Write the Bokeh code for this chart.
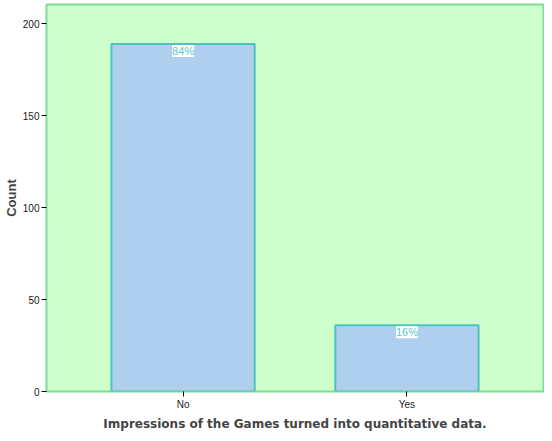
from bokeh.plotting import figure
from bokeh.models import ColumnDataSource, LabelSet, FactorRange, Range1d, FixedTicker
from bokeh.core.properties import value
from bokeh.embed import file_html
from bokeh.resources import INLINE

categories = ["No", "Yes"]
counts = [189, 36]
percent_labels = ["84%", "16%"]
y_ticks = [0, 50, 100, 150, 200]

source = ColumnDataSource(dict(cat=categories, count=counts, pct=percent_labels))

p = figure(width=544, height=433, output_backend="svg", toolbar_location=None,
           x_range=FactorRange(*categories, range_padding=0.11, range_padding_units="absolute"),
           y_range=Range1d(0, 210.5),
           min_border_left=45, min_border_right=1, min_border_top=4, min_border_bottom=42)

p.background_fill_color = "#CCFFCC"
p.border_fill_color = "white"
p.outline_line_color = "#7EDC96"
p.outline_line_width = 2
p.xgrid.grid_line_color = None
p.ygrid.grid_line_color = None

p.vbar(x="cat", top="count", width=0.64, source=source,
       fill_color="#AECFEE", line_color="#4CC4C0", line_width=2)

labels = LabelSet(x="cat", y="count", text="pct", source=source,
                  text_align="center", text_baseline="top", y_offset=-1,
                  text_color="#5CC8C8", text_font_size="11px", text_font=value("Liberation Sans"),
                  background_fill_color="white")
p.add_layout(labels)

for ax in (p.xaxis, p.yaxis):
    ax.axis_line_color = None
    ax.major_tick_line_color = "black"
    ax.minor_tick_line_color = None
    ax.major_label_text_font = "Liberation Sans"
    ax.major_label_text_font_size = "10px"
    ax.major_label_text_color = "#222222"

p.yaxis.ticker = FixedTicker(ticks=y_ticks)
p.yaxis.major_tick_out = 5
p.yaxis.major_tick_in = 0
p.yaxis.major_label_standoff = 2
p.xaxis.major_tick_out = 5
p.xaxis.major_tick_in = 0
p.xaxis.major_label_standoff = 2

p.yaxis.axis_label = "Count"
p.yaxis.axis_label_text_font = "Liberation Sans"
p.yaxis.axis_label_text_font_style = "bold"
p.yaxis.axis_label_text_font_size = "13px"
p.yaxis.axis_label_standoff = 1

p.xaxis.axis_label = "Impressions of the Games turned into quantitative data."
p.xaxis.axis_label_text_font = "DejaVu Sans"
p.xaxis.axis_label_text_font_style = "bold"
p.xaxis.axis_label_text_font_size = "12px"
p.xaxis.axis_label_standoff = 4

open("out.html", "w").write(file_html(p, INLINE))
